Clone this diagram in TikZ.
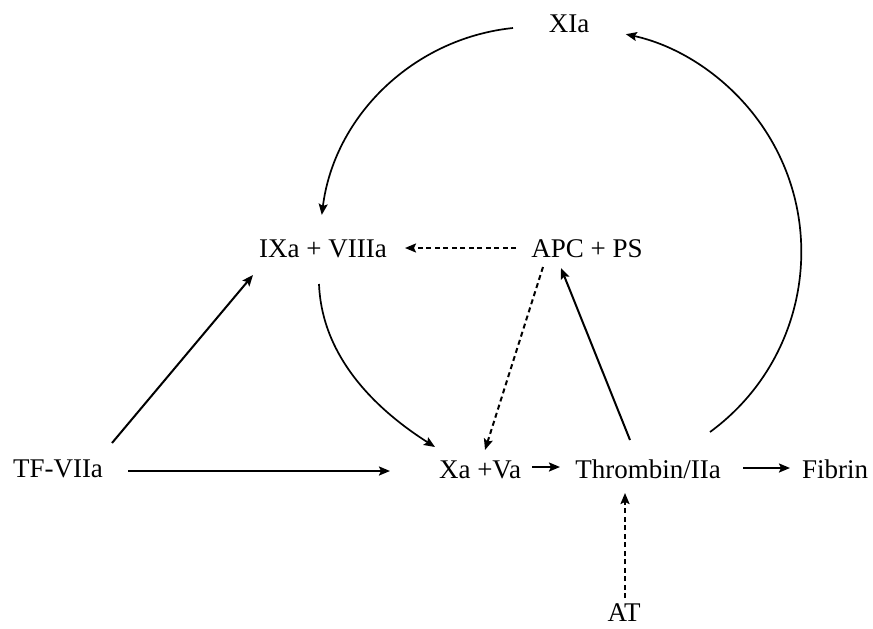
\documentclass[tikz,border=0pt]{standalone}
\usepackage{fontspec}
\setmainfont{Liberation Serif}
\usetikzlibrary{arrows.meta,calc}
\begin{document}
\begin{tikzpicture}[x=1pt,y=-1pt,
  lbl/.style={anchor=base,inner sep=0pt,font=\fontsize{27}{30}\selectfont},
  arr/.style={line width=2pt,-{Stealth[length=11pt,width=9pt,inset=2pt]}},
  curvearr/.style={arr,line width=1.7pt},
  darr/.style={arr,dash pattern=on 5pt off 3.5pt}]
\useasboundingbox (0,0) rectangle (873,629);
% nodes
\node[lbl] (xia) at (569,32) {XIa};
\node[lbl] (ixa) at (323,257) {IXa + VIIIa};
\node[lbl] (apc) at (587,257) {APC + PS};
\node[lbl] (tf)  at (58,477) {TF-VIIa};
\node[lbl] (xa)  at (480,478) {Xa +Va};
\node[lbl] (thr) at (648,478) {Thrombin/IIa};
\node[lbl] (fib) at (835,478) {Fibrin};
\node[lbl] (at)  at (624,621) {AT};
% curved connectors
\draw[curvearr] ($(xia.base)+(-56,-4)$) arc[start angle=-95.9, end angle=-172.8, radius=215];
\draw[curvearr] ($(thr.base)+(62,-46)$) arc[start angle=53.8, end angle=-77.7, radius=223];
\draw[curvearr] ($(ixa.base)+(-4,27)$) .. controls (322,360) and (380,412) .. ($(xa.base)+(-45,-31)$);
% straight connectors
\draw[arr] ($(tf.base)+(54,-34)$) -- ($(ixa.base)+(-70,18)$);
\draw[arr] ($(tf.base)+(70,-6)$) -- ($(xa.base)+(-90,-7)$);
\draw[arr] ($(xa.base)+(52,-11)$) -- ($(thr.base)+(-88,-11)$);
\draw[arr] ($(thr.base)+(95,-10)$) -- ($(fib.base)+(-45,-10)$);
\draw[arr] ($(thr.base)+(-18,-38)$) -- ($(apc.base)+(-26,11)$);
% dashed connectors
\draw[darr] ($(at.base)+(1,-23)$) -- ($(thr.base)+(-23,15)$);
\draw[darr] ($(apc.base)+(-44,10)$) -- ($(xa.base)+(5,-28)$);
\draw[darr] ($(apc.base)+(-71,-9)$) -- ($(ixa.base)+(82,-9)$);
\end{tikzpicture}
\end{document}
